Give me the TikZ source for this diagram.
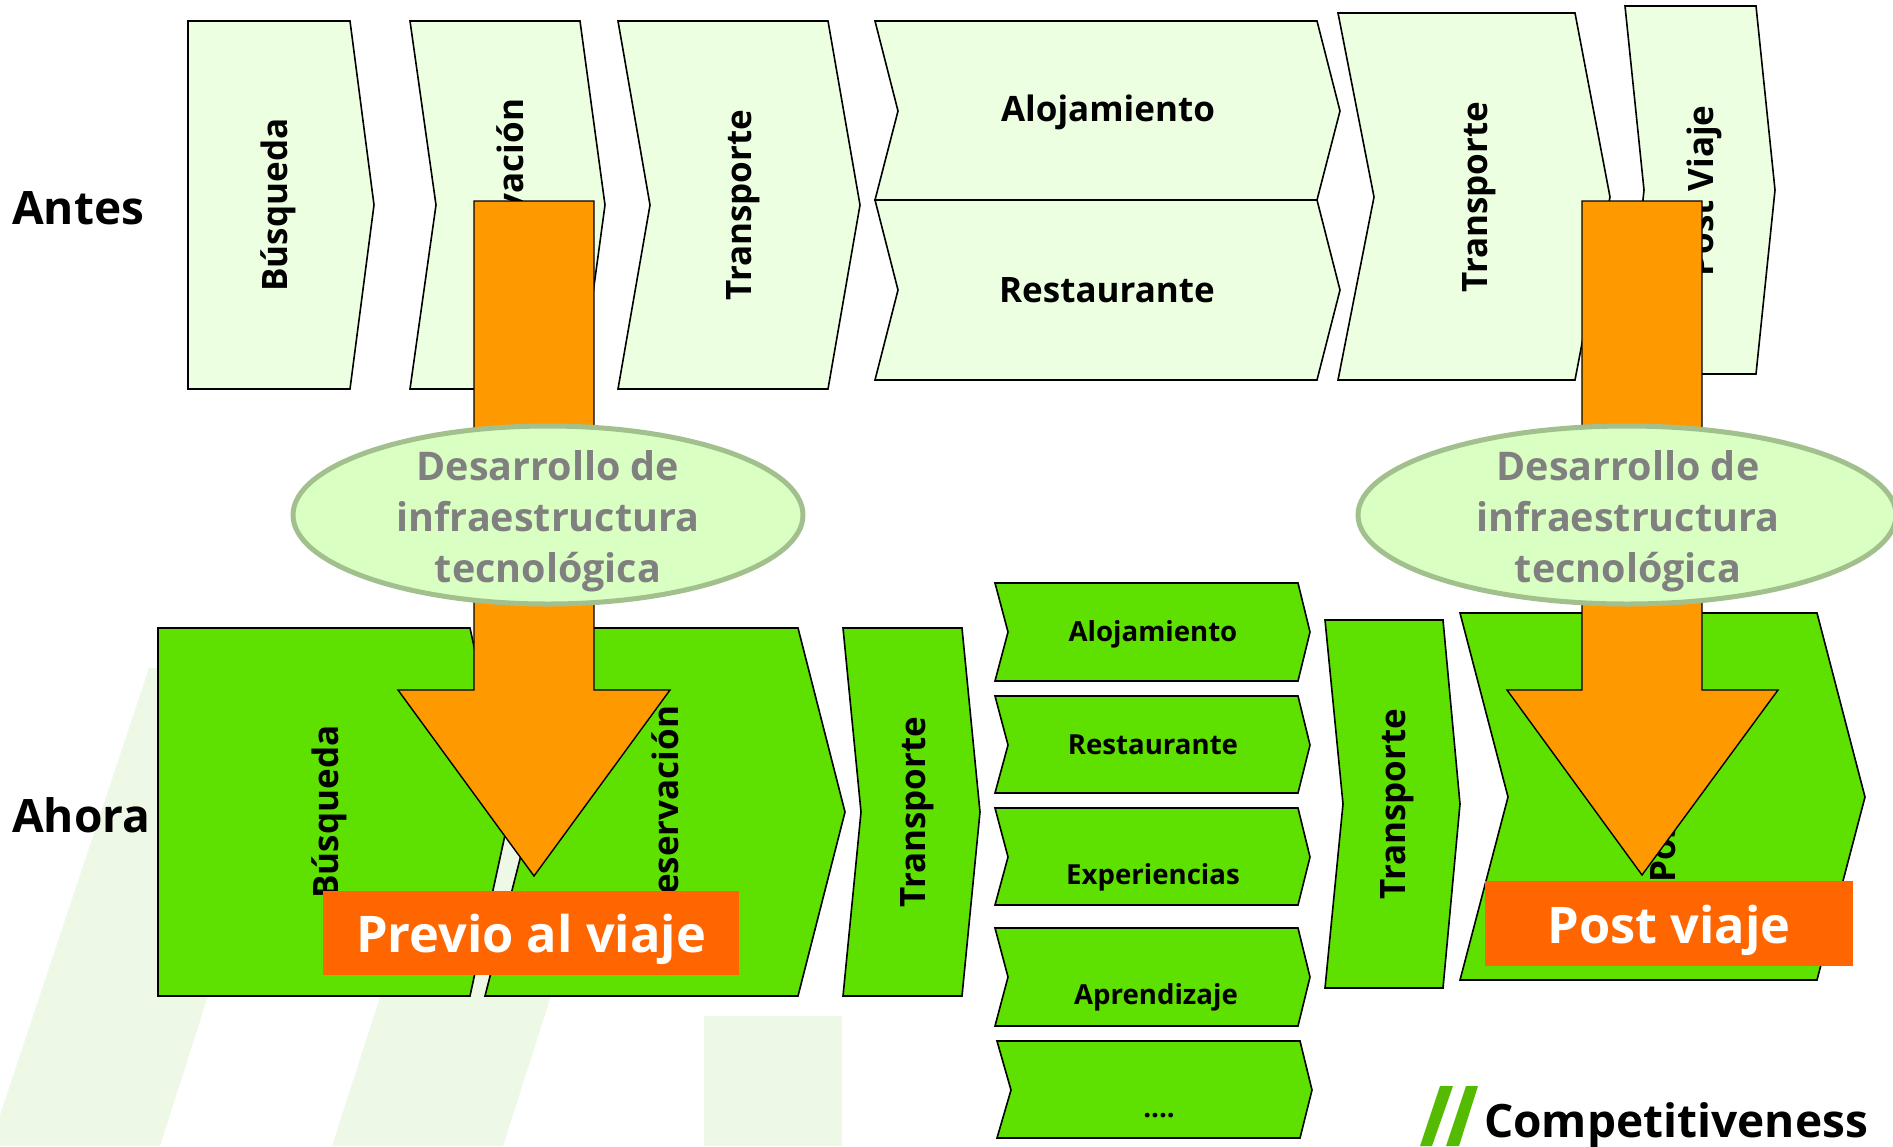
\documentclass[tikz,border=0pt]{standalone}
\usepackage{fontspec}
\setmainfont{Open Sans}
\definecolor{palegreen}{HTML}{ECFFE0}
\definecolor{strongreen}{HTML}{5EE000}
\definecolor{markgreen}{HTML}{EDF8E6}
\definecolor{logogreen}{HTML}{55BB00}
\definecolor{arroworange}{HTML}{FF9900}
\definecolor{boxorange}{HTML}{FF6600}
\definecolor{ovalfill}{HTML}{DAFFC2}
\definecolor{ovalline}{HTML}{A2C08E}
\tikzset{
  x = 1pt,
  y = -1pt,
  old/.style = {draw, line width=1.6pt, fill=palegreen},
  new/.style = {draw, line width=1.6pt, fill=strongreen},
  bigarrow/.style = {draw, line width=1.4pt, fill=arroworange},
  watermark/.style = {fill=markgreen},
  slanted/.style = {fill=logogreen},
  steplabel/.style = {font=\bfseries\fontsize{35}{40}\selectfont, inner sep=0pt},
  smalllabel/.style = {font=\bfseries\fontsize{27.6}{32}\selectfont, inner sep=0pt},
  rowlabel/.style = {font=\bfseries\fontsize{46}{52}\selectfont, inner sep=0pt, anchor=west},
  oval/.style = {draw=ovalline, line width=5pt, fill=ovalfill},
  ovallabel/.style = {inner sep=0pt, font=\bfseries\fontsize{39.5}{51}\selectfont, text=gray, align=center},
  phaselabel/.style = {text=white, inner sep=0pt,
    font=\bfseries\fontsize{50.5}{60}\selectfont},
}
% left, notch, shoulder, tip, top, middle, bottom
\newcommand{\chevron}[8]{
  \draw[#1] (#2,#6) -- (#4,#6) -- (#5,#7) -- (#4,#8) -- (#2,#8) -- (#3,#7) -- cycle;
}
% shaft left, shaft right, head left, head right, top, head y, tip x, tip y
\newcommand{\fatarrow}[8]{
  \draw[bigarrow] (#1,#5) -- (#2,#5) -- (#2,#6) -- (#4,#6) -- (#7,#8) -- (#3,#6) -- (#1,#6) -- cycle;
}

\begin{document}
\begin{tikzpicture}
  \useasboundingbox (0,0) rectangle (1893,1146);

  % watermark
  \fill[watermark] (149,668) -- (313,668) -- (160,1146) -- (0,1146) -- (0,1115) -- cycle;
  \fill[watermark] (486,668) -- (656,668) -- (503,1146) -- (332,1146) -- cycle;
  \fill[watermark] (704,1016) rectangle (842,1146);

  % before
  \chevron{old}{188}{188}{350}{374}{21}{205}{389}
  \chevron{old}{410}{436}{580}{605}{21}{205}{389}
  \chevron{old}{618}{650}{828}{860}{21}{205}{389}
  \chevron{old}{875}{898}{1317}{1340}{21}{111}{200}
  \chevron{old}{875}{898}{1317}{1340}{200}{290}{380}
  \chevron{old}{1338}{1374}{1575}{1610}{13}{197}{380}
  \chevron{old}{1625}{1644}{1756}{1775}{6}{190}{374}
  \node[steplabel, rotate=90] (busqueda) at (278,205) {Búsqueda};
  \node[steplabel, rotate=90] (reservacion) at (510,205) {Reservación};
  \node[steplabel, rotate=90] (transporte) at (743,205) {Transporte};
  \node[steplabel] (alojamiento) at (1108,112) {Alojamiento};
  \node[steplabel] (restaurante) at (1107,290) {Restaurante};
  \node[steplabel, rotate=90] (vuelta) at (1479,197) {Transporte};
  \node[steplabel, rotate=90] (postviaje) at (1704,191) {Post Viaje};

  % now
  \chevron{new}{158}{158}{470}{510}{628}{812}{996}
  \chevron{new}{485}{532}{798}{845}{628}{812}{996}
  \chevron{new}{843}{861}{962}{980}{628}{812}{996}
  \chevron{new}{995}{1008}{1298}{1310}{583}{632}{681}
  \chevron{new}{995}{1008}{1298}{1310}{696}{745}{793}
  \chevron{new}{995}{1008}{1298}{1310}{808}{857}{905}
  \chevron{new}{995}{1008}{1298}{1310}{928}{977}{1026}
  \chevron{new}{997}{1011}{1300}{1312}{1041}{1090}{1138}
  \chevron{new}{1325}{1343}{1443}{1460}{620}{804}{988}
  \chevron{new}{1460}{1508}{1817}{1865}{613}{797}{980}
  \node[steplabel, rotate=90] (busqueda2) at (329,812) {Búsqueda};
  \node[steplabel, rotate=90] (reservacion2) at (665,812) {Reservación};
  \node[steplabel, rotate=90] (transporte2) at (917,812) {Transporte};
  \node[smalllabel] (alojamiento2) at (1153,634) {Alojamiento};
  \node[smalllabel] (restaurante2) at (1153,745) {Restaurante};
  \node[smalllabel] (experiencias) at (1153,877) {Experiencias};
  \node[smalllabel] (aprendizaje) at (1156,997) {Aprendizaje};
  \node[smalllabel] (puntos) at (1159,1116) {....};
  \node[steplabel, rotate=90] (vuelta2) at (1397,804) {Transporte};
  \node[steplabel, rotate=90] (postviaje2) at (1666,797) {Post Viaje};

  \node[rowlabel] (antes) at (12,208) {Antes};
  \node[rowlabel] (ahora) at (12,815) {Ahora};

  % change
  \fatarrow{474}{594}{398}{670}{201}{690}{534}{876}
  \fatarrow{1582}{1702}{1507}{1778}{201}{690}{1642}{875}

  \draw[oval] (548,515) ellipse [x radius=255, y radius=89];
  \node[ovallabel] (desarrollo) at (548,521) {Desarrollo de\\infraestructura\\tecnológica};
  \draw[oval] (1627,515) ellipse [x radius=269, y radius=89];
  \node[ovallabel] (desarrollo2) at (1628,521) {Desarrollo de\\infraestructura\\tecnológica};

  \fill[boxorange] (323,891) rectangle (739,975);
  \fill[boxorange] (1485,881) rectangle (1853,966);
  \node[phaselabel] (previo) at (531,939) {Previo al viaje};
  \node[phaselabel] (post) at (1669,930) {Post viaje};

  % logo
  \fill[slanted] (1440,1086) -- (1453,1086) -- (1432,1146) -- (1420,1146) -- cycle;
  \fill[slanted] (1466,1086) -- (1478,1086) -- (1459,1146) -- (1446,1146) -- cycle;
  \node[font=\bfseries\fontsize{46}{50}\selectfont, inner sep=0pt, anchor=base west] (logo) at (1484,1137) {Competitiveness};
\end{tikzpicture}
\end{document}
